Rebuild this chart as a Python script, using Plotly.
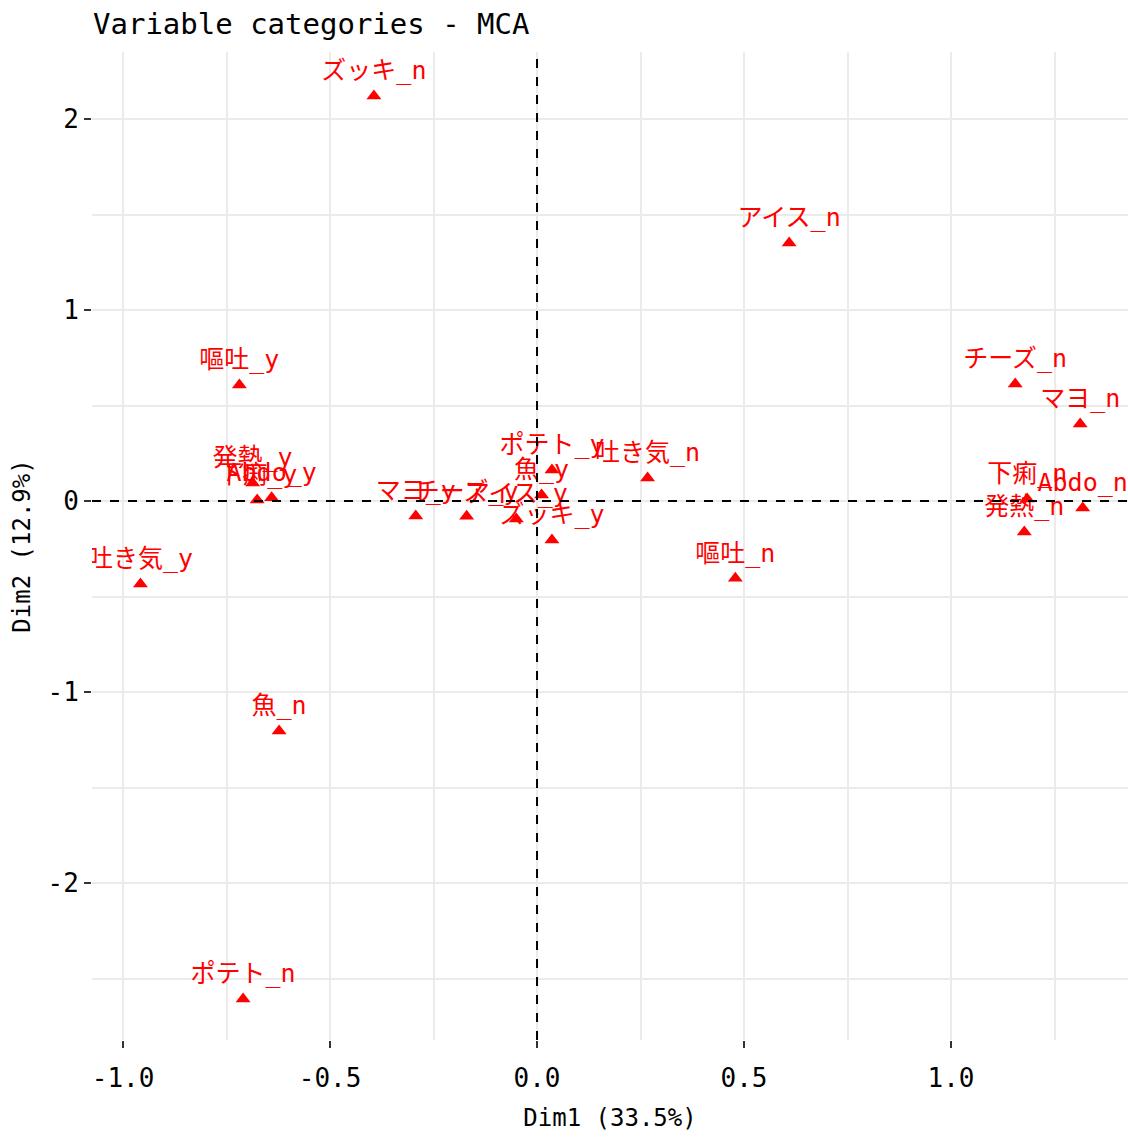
import plotly.graph_objects as go

# MCA variable-category coordinates (first two dimensions)
categories = ["吐き気_n", "吐き気_y", "嘔吐_n", "嘔吐_y", "Abdo_n", "Abdo_y",
              "発熱_n", "発熱_y", "下痢_n", "下痢_y", "ポテト_n", "ポテト_y",
              "魚_n", "魚_y", "マヨ_n", "マヨ_y", "ズッキ_n", "ズッキ_y",
              "チーズ_n", "チーズ_y", "アイス_n", "アイス_y"]
dim1 = [0.267, -0.958, 0.479, -0.719, 1.318, -0.641,
        1.177, -0.687, 1.184, -0.676, -0.710, 0.036,
        -0.623, 0.011, 1.312, -0.293, -0.394, 0.036,
        1.155, -0.170, 0.609, -0.050]
dim2 = [0.121, -0.435, -0.405, 0.608, -0.036, 0.017,
        -0.162, 0.094, 0.010, 0.005, -2.607, 0.162,
        -1.204, 0.031, 0.403, -0.078, 2.120, -0.204,
        0.613, -0.080, 1.351, -0.094]

x_ticks = [-1.0, -0.5, 0.0, 0.5, 1.0]
x_tick_labels = ["-1.0", "-0.5", "0.0", "0.5", "1.0"]
y_ticks = [-2, -1, 0, 1, 2]
y_tick_labels = ["-2", "-1", "0", "1", "2"]

title_text = "Variable categories - MCA"
x_title = "Dim1 (33.5%)"
y_title = "Dim2 (12.9%)"

FONT = "DejaVu Sans Mono, Noto Sans CJK JP, sans-serif"
RED = "#FF0000"
GRID = "#EBEBEB"

fig = go.Figure()

# Category labels, placed above each point and clipped to the panel
fig.add_trace(go.Scatter(
    x=dim1, y=dim2, mode="markers+text", text=categories,
    textposition="top center", cliponaxis=True,
    textfont=dict(family=FONT, size=25, color=RED),
    marker=dict(size=15, color="rgba(0,0,0,0)", line=dict(width=0)),
    hoverinfo="skip", showlegend=False,
))

fig.add_trace(go.Scatter(
    x=dim1, y=dim2, mode="markers", cliponaxis=True,
    marker=dict(symbol="triangle-up", size=13, color=RED, line=dict(width=0)),
    hovertext=categories, hoverinfo="text", showlegend=False,
))

# Reference lines through the origin
fig.add_hline(y=0, line=dict(color="black", width=2, dash="dash"), layer="above")
fig.add_vline(x=0, line=dict(color="black", width=2, dash="dash"), layer="above")

axis_common = dict(
    showline=False, zeroline=False,
    showgrid=True, gridcolor=GRID, gridwidth=2,
    ticks="outside", ticklen=7, tickwidth=2, tickcolor="#333333",
    tickfont=dict(family=FONT, size=26, color="black"),
)

fig.update_xaxes(
    **axis_common,
    range=[-1.075, 1.4275],
    tickvals=x_ticks, ticktext=x_tick_labels,
    ticklabelstandoff=8,
    minor=dict(dtick=0.25, tick0=0.25, showgrid=True, gridcolor=GRID, gridwidth=1.5),
    title=dict(text=x_title, font=dict(family=FONT, size=24, color="black"), standoff=16),
)
fig.update_yaxes(
    **axis_common,
    range=[-2.822, 2.351],
    tickvals=y_ticks, ticktext=y_tick_labels,
    minor=dict(dtick=0.5, tick0=0.5, showgrid=True, gridcolor=GRID, gridwidth=1.5),
    title=dict(text=y_title, font=dict(family=FONT, size=24, color="black"), standoff=10),
)

fig.update_layout(
    width=1128, height=1138,
    margin=dict(l=92, r=0, t=52, b=98),
    paper_bgcolor="white", plot_bgcolor="white",
    title=dict(text=title_text, x=93 / 1128, xref="container", xanchor="left",
               y=1 - 24 / 1138, yref="container", yanchor="middle",
               font=dict(family=FONT, size=29, color="black")),
)

fig.write_html("out.html")
